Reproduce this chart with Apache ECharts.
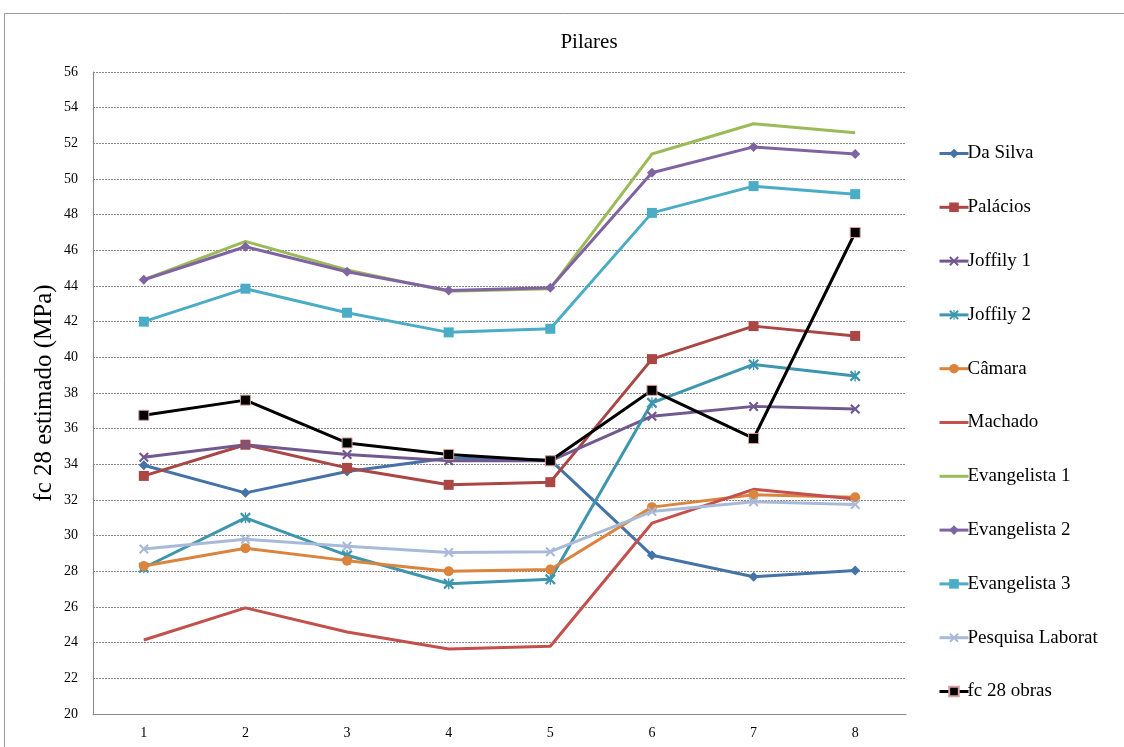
<!DOCTYPE html>
<html><head><meta charset="utf-8">
<script src="https://cdn.jsdelivr.net/npm/echarts@6/dist/echarts.min.js"></script>
<style>html,body{margin:0;padding:0;background:#fff}#c{width:1124px;height:747px}</style>
</head><body><div id="c"></div>
<script>
const categories = ['1','2','3','4','5','6','7','8'];
const daSilva      = [33.95, 32.4, 33.6, 34.35, 34.25, 28.9, 27.7, 28.05];
const palacios     = [33.35, 35.1, 33.8, 32.85, 33.0, 39.9, 41.75, 41.2];
const joffily1     = [34.4, 35.1, 34.55, 34.2, 34.2, 36.7, 37.25, 37.1];
const joffily2     = [28.2, 31.0, 28.9, 27.3, 27.55, 37.45, 39.6, 38.95];
const camara       = [28.3, 29.3, 28.6, 28.0, 28.1, 31.6, 32.3, 32.15];
const machado      = [24.15, 25.95, 24.6, 23.65, 23.8, 30.7, 32.6, 32.05];
const evangelista1 = [44.35, 46.5, 44.9, 43.7, 43.85, 51.4, 53.1, 52.6];
const evangelista2 = [44.35, 46.2, 44.8, 43.75, 43.9, 50.35, 51.8, 51.4];
const evangelista3 = [42.0, 43.85, 42.5, 41.4, 41.6, 48.1, 49.6, 49.15];
const pesquisa     = [29.25, 29.8, 29.4, 29.05, 29.1, 31.35, 31.9, 31.75];
const fc28obras    = [36.75, 37.6, 35.2, 34.55, 34.2, 38.15, 35.45, 47.0];

const X = 'path://M0,1.5 L1.5,0 L5,3.5 L8.5,0 L10,1.5 L6.5,5 L10,8.5 L8.5,10 L5,6.5 L1.5,10 L0,8.5 L3.5,5 Z';
const AST = 'path://M0,1.5 L1.5,0 L5,3.5 L8.5,0 L10,1.5 L6.5,5 L10,8.5 L8.5,10 L5,6.5 L1.5,10 L0,8.5 L3.5,5 Z M4.4,0 L5.6,0 L5.6,10 L4.4,10 Z';

function s(name, data, color, symbol, size, extra) {
  return Object.assign({
    name, type: 'line', data, symbol: symbol || 'none', symbolSize: size || 8,
    showSymbol: !!symbol,
    lineStyle: {color, width: 3}, itemStyle: {color},
    emphasis: {disabled: true}, animation: false, z: 2
  }, extra || {});
}

const series = [
  s('Da Silva', daSilva, '#4572A7', 'diamond', 10),
  s('Palácios', palacios, '#AA4643', 'rect', 10),
  s('Joffily 1', joffily1, '#71588F', X, 10),
  s('Joffily 2', joffily2, '#3D96AE', AST, 11),
  s('Câmara', camara, '#DB843D', 'circle', 10),
  s('Machado', machado, '#C4504D', null),
  s('Evangelista 1', evangelista1, '#9BBB59', null),
  s('Evangelista 2', evangelista2, '#8064A2', 'diamond', 10),
  s('Evangelista 3', evangelista3, '#4BACC6', 'rect', 10),
  s('Pesquisa Laborat', pesquisa, '#A9BAD8', X, 10),
  s('fc 28 obras', fc28obras, '#000000', 'rect', 10, {itemStyle: {color: '#000', borderColor: '#D8A0A0', borderWidth: 1}, z: 3})
];

const chart = echarts.init(document.getElementById('c'), null, {renderer: 'canvas'});
chart.setOption({
  backgroundColor: '#fff',
  animation: false,
  textStyle: {fontFamily: 'Liberation Serif'},
  graphic: [{type: 'rect', shape: {x: 4.5, y: 13.5, width: 1130, height: 750}, style: {fill: 'none', stroke: '#999', lineWidth: 1}, silent: true}],
  title: {text: 'Pilares', left: 584, top: 27, textAlign: 'center',
    textStyle: {fontFamily: 'Liberation Serif', fontSize: 21, fontWeight: 'normal', color: '#000'}},
  grid: {left: 93, right: 218, top: 72, bottom: 33},
  legend: {
    orient: 'vertical', left: 933, top: 139, itemGap: 34.8, itemWidth: 29, itemHeight: 12,
    lineStyle: {width: 3},
    textStyle: {fontFamily: 'Liberation Serif', fontSize: 19, color: '#000', padding: [0, 0, 0, -6]},
    data: series.map(x => (x.symbol === 'none' ? {name: x.name, itemStyle: {opacity: 0}} : {name: x.name}))
  },
  xAxis: {
    type: 'category', data: categories, boundaryGap: true,
    axisLine: {lineStyle: {color: '#888'}},
    axisTick: {show: false},
    axisLabel: {fontFamily: 'Liberation Serif', fontSize: 14, color: '#000', margin: 12}
  },
  yAxis: {
    type: 'value', min: 20, max: 56, interval: 2,
    name: 'fc 28 estimado (MPa)', nameLocation: 'middle', nameGap: 36, nameRotate: 90,
    nameMoveOverlap: false,
    nameTextStyle: {fontFamily: 'Liberation Serif', fontSize: 25, color: '#000'},
    axisLine: {show: true, lineStyle: {color: '#888'}},
    axisTick: {show: false},
    axisLabel: {fontFamily: 'Liberation Serif', fontSize: 14, color: '#000', margin: 15},
    splitLine: {lineStyle: {color: '#888', type: [2, 1], width: 1}}
  },
  series
});
</script></body></html>
